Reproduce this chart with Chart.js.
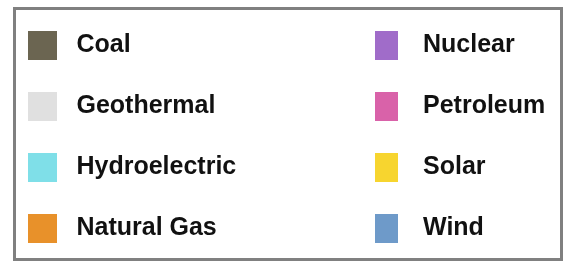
<!DOCTYPE html>
<html>
<head>
<meta charset="utf-8">
<script src="https://cdn.jsdelivr.net/npm/chart.js@4/dist/chart.umd.min.js"></script>
<style>
  body { margin: 0; background: #fff; width: 567px; height: 263px; overflow: hidden; position: relative; }
  .frame { position: absolute; left: 13px; top: 7px; width: 544px; height: 248px; border: 3px solid #808080; }
  #left { position: absolute; left: -4px; top: -1px; }
  #right { position: absolute; left: 343px; top: -1px; }
</style>
</head>
<body>
<div class="frame"></div>
<canvas id="left" width="350" height="264"></canvas>
<canvas id="right" width="224" height="264"></canvas>
<script>
// energy sources shown in the legend, two columns of four
const sources = ['Coal', 'Geothermal', 'Hydroelectric', 'Natural Gas',
  'Nuclear', 'Petroleum', 'Solar', 'Wind'];
const sourceColors = ['#6b6551', '#e0e0e0', '#7fdfe8', '#e8912a',
  '#a06cc9', '#d962a9', '#f7d52f', '#6e9ac9'];

const buildLegend = (canvasId, names, colors, boxWidth, prefix) => {
  const ctx = document.getElementById(canvasId).getContext('2d');
  return new Chart(ctx, {
    type: 'bar',
    data: {
      labels: [],
      datasets: names.map((name, i) => ({
        label: name,
        data: [],
        backgroundColor: colors[i],
        borderWidth: 0,
      })),
    },
    options: {
      responsive: false,
      animation: false,
      devicePixelRatio: 1,
      layout: { padding: 0 },
      scales: {
        x: { display: false },
        y: { display: false },
      },
      plugins: {
        tooltip: { enabled: false },
        legend: {
          position: 'top',
          align: 'start',
          maxHeight: 400,
          labels: {
            boxWidth: boxWidth,
            boxHeight: 29,
            padding: 32,
            color: '#111',
            font: { family: "'Liberation Sans', Arial, sans-serif", size: 25, weight: 'bold' },
            generateLabels: chart => {
              const items = Chart.defaults.plugins.legend.labels.generateLabels(chart);
              return items.map(item => ({ ...item, text: prefix + item.text }));
            },
          },
        },
      },
    },
  });
};

buildLegend('left', sources.slice(0, 4), sourceColors.slice(0, 4), 29, ' ');
buildLegend('right', sources.slice(4), sourceColors.slice(4), 23, '\u2002');
</script>
</body>
</html>
